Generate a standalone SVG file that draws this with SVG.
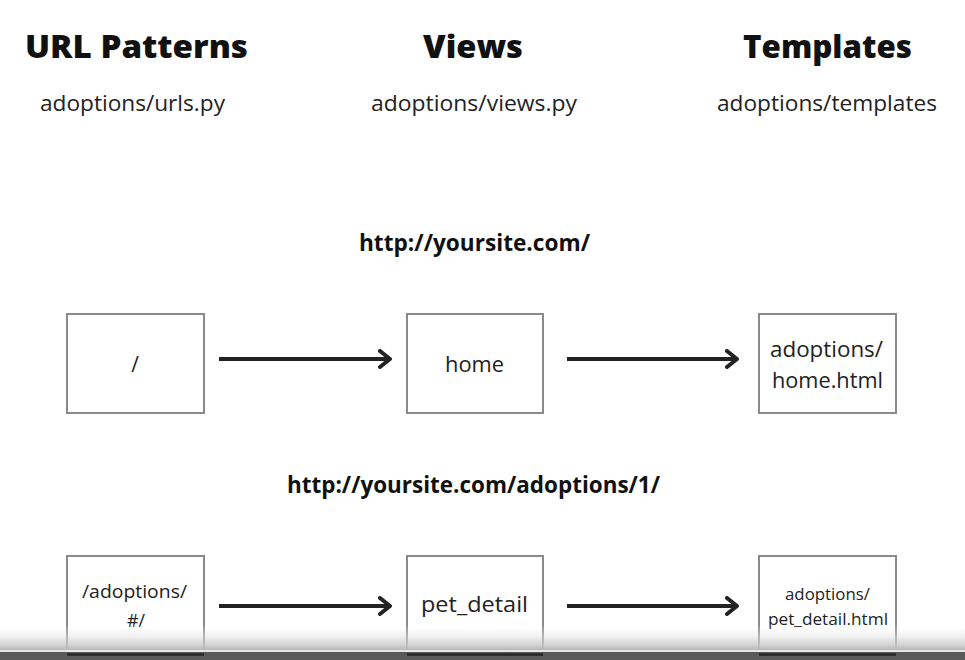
<svg xmlns="http://www.w3.org/2000/svg" width="965" height="660" viewBox="0 0 965 660">
<defs>
<style>
.h{font-family:"Open Sans",Lato,"Liberation Sans",sans-serif;font-weight:800;fill:#111;text-anchor:middle}
.u{font-family:"Open Sans",Lato,"Liberation Sans",sans-serif;font-weight:700;fill:#111;text-anchor:middle}
.t{font-family:"Open Sans",Lato,"Liberation Sans",sans-serif;font-weight:400;fill:#222;text-anchor:middle}
.box{fill:#fff;stroke:#8a8a8a;stroke-width:2}
.arr{stroke:#222;stroke-width:4;fill:none;marker-end:url(#ah)}
</style>
<marker id="ah" viewBox="0 0 14 20" refX="12" refY="10" markerWidth="14" markerHeight="20" markerUnits="userSpaceOnUse" orient="auto">
<path d="M2,2 L12,10 L2,18" fill="none" stroke="#222" stroke-width="4" stroke-linecap="round" stroke-linejoin="round"/>
</marker>
<linearGradient id="fade" x1="0" y1="0" x2="0" y2="1">
<stop offset="0" stop-color="#fff" stop-opacity="0"/>
<stop offset="1" stop-color="#b8b8b8" stop-opacity="1"/>
</linearGradient>
</defs>
<rect width="965" height="660" fill="#fff"/>
<g id="headers">
<text class="h" x="136.5" y="58" font-size="31" textLength="223" lengthAdjust="spacingAndGlyphs">URL Patterns</text>
<text class="h" x="473" y="58" font-size="31" textLength="100" lengthAdjust="spacingAndGlyphs">Views</text>
<text class="h" x="827.5" y="58" font-size="31" textLength="169" lengthAdjust="spacingAndGlyphs">Templates</text>
<text class="t" x="132.5" y="111" font-size="21" textLength="185" lengthAdjust="spacingAndGlyphs">adoptions/urls.py</text>
<text class="t" x="474" y="111" font-size="21" textLength="206" lengthAdjust="spacingAndGlyphs">adoptions/views.py</text>
<text class="t" x="827" y="111" font-size="21" textLength="220" lengthAdjust="spacingAndGlyphs">adoptions/templates</text>
<text class="u" x="474.5" y="251" font-size="23" textLength="231" lengthAdjust="spacingAndGlyphs">http://yoursite.com/</text>
<text class="u" x="473.5" y="493" font-size="23" textLength="373" lengthAdjust="spacingAndGlyphs">http://yoursite.com/adoptions/1/</text>
</g>
<g id="connectors">
<line class="arr" x1="219" y1="359" x2="390" y2="359"/>
<line class="arr" x1="567" y1="359" x2="737" y2="359"/>
<line class="arr" x1="219" y1="606" x2="390" y2="606"/>
<line class="arr" x1="567" y1="606" x2="737" y2="606"/>
</g>
<g id="n-root">
<rect class="box" x="67" y="314" width="137" height="99"/>
<text class="t" x="135" y="372" font-size="21">/</text>
</g>
<g id="n-home">
<rect class="box" x="407" y="314" width="136" height="99"/>
<text class="t" x="474.5" y="372" font-size="21" textLength="59" lengthAdjust="spacingAndGlyphs">home</text>
</g>
<g id="n-home-tpl">
<rect class="box" x="759" y="314" width="137" height="99"/>
<text class="t" x="826.5" y="357" font-size="21" textLength="113" lengthAdjust="spacingAndGlyphs">adoptions/</text>
<text class="t" x="827.5" y="388" font-size="21" textLength="111" lengthAdjust="spacingAndGlyphs">home.html</text>
</g>
<g id="n-adopt">
<rect class="box" x="67" y="556" width="137" height="120"/>
<text class="t" x="134.5" y="598" font-size="18" textLength="105" lengthAdjust="spacingAndGlyphs">/adoptions/</text>
<text class="t" x="136" y="627" font-size="18" textLength="18" lengthAdjust="spacingAndGlyphs">#/</text>
</g>
<g id="n-petdetail">
<rect class="box" x="407" y="556" width="136" height="120"/>
<text class="t" x="474.5" y="612" font-size="21" textLength="107" lengthAdjust="spacingAndGlyphs">pet_detail</text>
</g>
<g id="n-petdetail-tpl">
<rect class="box" x="759" y="556" width="137" height="120"/>
<text class="t" x="827.5" y="600" font-size="15.5" textLength="85" lengthAdjust="spacingAndGlyphs">adoptions/</text>
<text class="t" x="828" y="625" font-size="15.5" textLength="120" lengthAdjust="spacingAndGlyphs">pet_detail.html</text>
</g>
<g id="overlay">
<rect x="0" y="624" width="965" height="26" fill="url(#fade)"/>
<rect x="0" y="650" width="965" height="2" fill="#e6e6e6"/>
<rect x="0" y="652" width="965" height="8" fill="#5a5a5a"/>
<rect x="67" y="653" width="137" height="3" fill="#2e2e2e"/>
<rect x="407" y="653" width="136" height="3" fill="#2e2e2e"/>
<rect x="759" y="653" width="137" height="3" fill="#2e2e2e"/>
</g>
</svg>
